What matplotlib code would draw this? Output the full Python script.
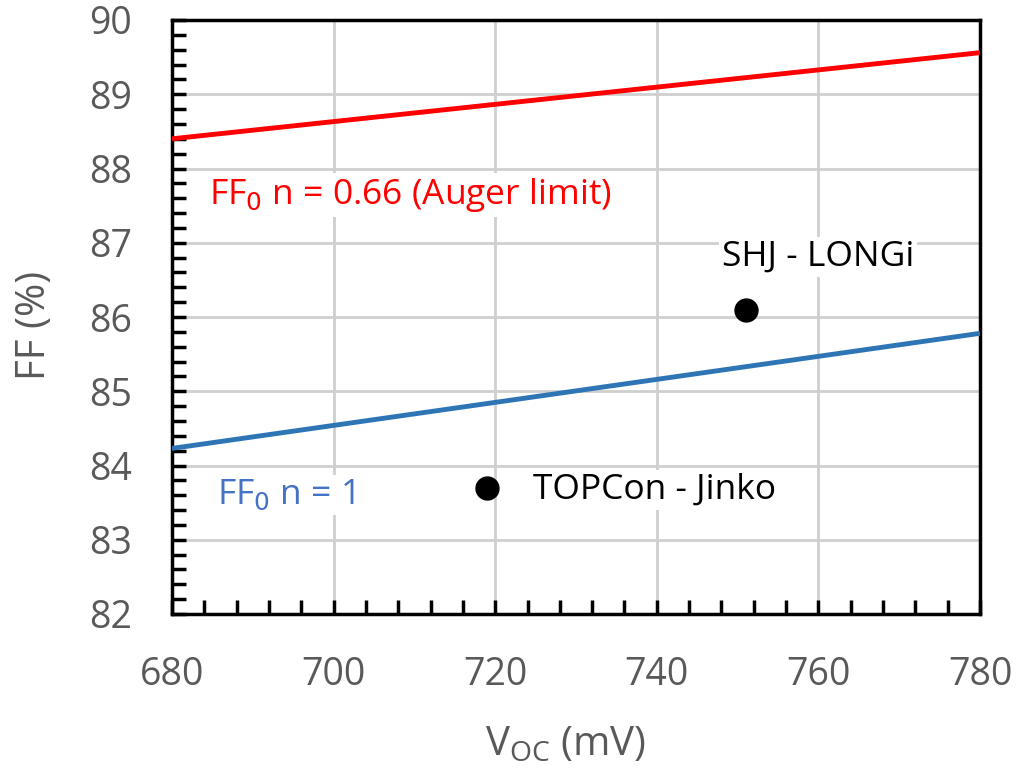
import numpy as np
import matplotlib.pyplot as plt
from matplotlib.ticker import MultipleLocator

plt.rcParams['font.family'] = ['Open Sans', 'DejaVu Sans']

# =========================
# DATA
# =========================
voc_line = [680, 780]
ff0_auger = [88.40, 89.56]   # n = 0.66
ff0_n1 = [84.23, 85.78]      # n = 1

cell_names = ["SHJ - LONGi", "TOPCon - Jinko"]
cell_voc = [751, 719]
cell_ff = [86.1, 83.7]

# =========================
# PLOT
# =========================
fig = plt.figure(figsize=(10.28, 7.69), dpi=100)
ax = fig.add_axes([172 / 1028, 1 - 614 / 769, 808 / 1028, 594 / 769])

ax.plot(voc_line, ff0_auger, color='#ff0000', lw=3.5, solid_capstyle='butt', zorder=3)
ax.plot(voc_line, ff0_n1, color='#2e75b6', lw=3.5, solid_capstyle='butt', zorder=3)
ax.plot(cell_voc, cell_ff, 'o', color='black', ms=16.5, zorder=4)

box = dict(facecolor='white', edgecolor='none', pad=2)
fs = 25.5
ax.text(684.6, 87.64, r'FF$_0$ n = 0.66 (Auger limit)', color='#ff0000', fontsize=fs,
        va='center', ha='left', bbox=box, zorder=2)
ax.text(685.6, 83.6, r'FF$_0$ n = 1', color='#4472c4', fontsize=fs,
        va='center', ha='left', bbox=box, zorder=2)
ax.text(748.1, 86.81, cell_names[0], color='black', fontsize=fs,
        va='center', ha='left', bbox=box, zorder=2)
ax.text(724.7, 83.67, cell_names[1], color='black', fontsize=fs,
        va='center', ha='left', bbox=box, zorder=2)

ax.set_xlim(680, 780)
ax.set_ylim(82, 90)
ax.xaxis.set_major_locator(MultipleLocator(20))
ax.xaxis.set_minor_locator(MultipleLocator(4))
ax.yaxis.set_major_locator(MultipleLocator(1))
ax.yaxis.set_minor_locator(MultipleLocator(0.2))

ax.grid(True, which='major', color='#cfcfcf', lw=2, zorder=0)
ax.set_axisbelow(True)
ax.tick_params(which='both', direction='in', color='black', width=2.5,
               top=False, right=False)
ax.tick_params(which='major', length=10, labelsize=27, labelcolor='#595959')
ax.tick_params(axis='x', which='major', pad=30)
ax.tick_params(axis='y', which='major', pad=29)
ax.tick_params(which='minor', length=10)
for s in ax.spines.values():
    s.set_linewidth(2.5)
    s.set_color('black')

ax.set_xlabel(r'V$_{\mathregular{OC}}$ (mV)', fontsize=29, color='#595959', va='center')
ax.set_ylabel('FF (%)', fontsize=29, color='#595959', va='center')
ax.xaxis.set_label_coords(0.487, -0.2205)
ax.yaxis.set_label_coords(-0.1696, 0.4865)

fig.savefig('out.png', dpi=100)
